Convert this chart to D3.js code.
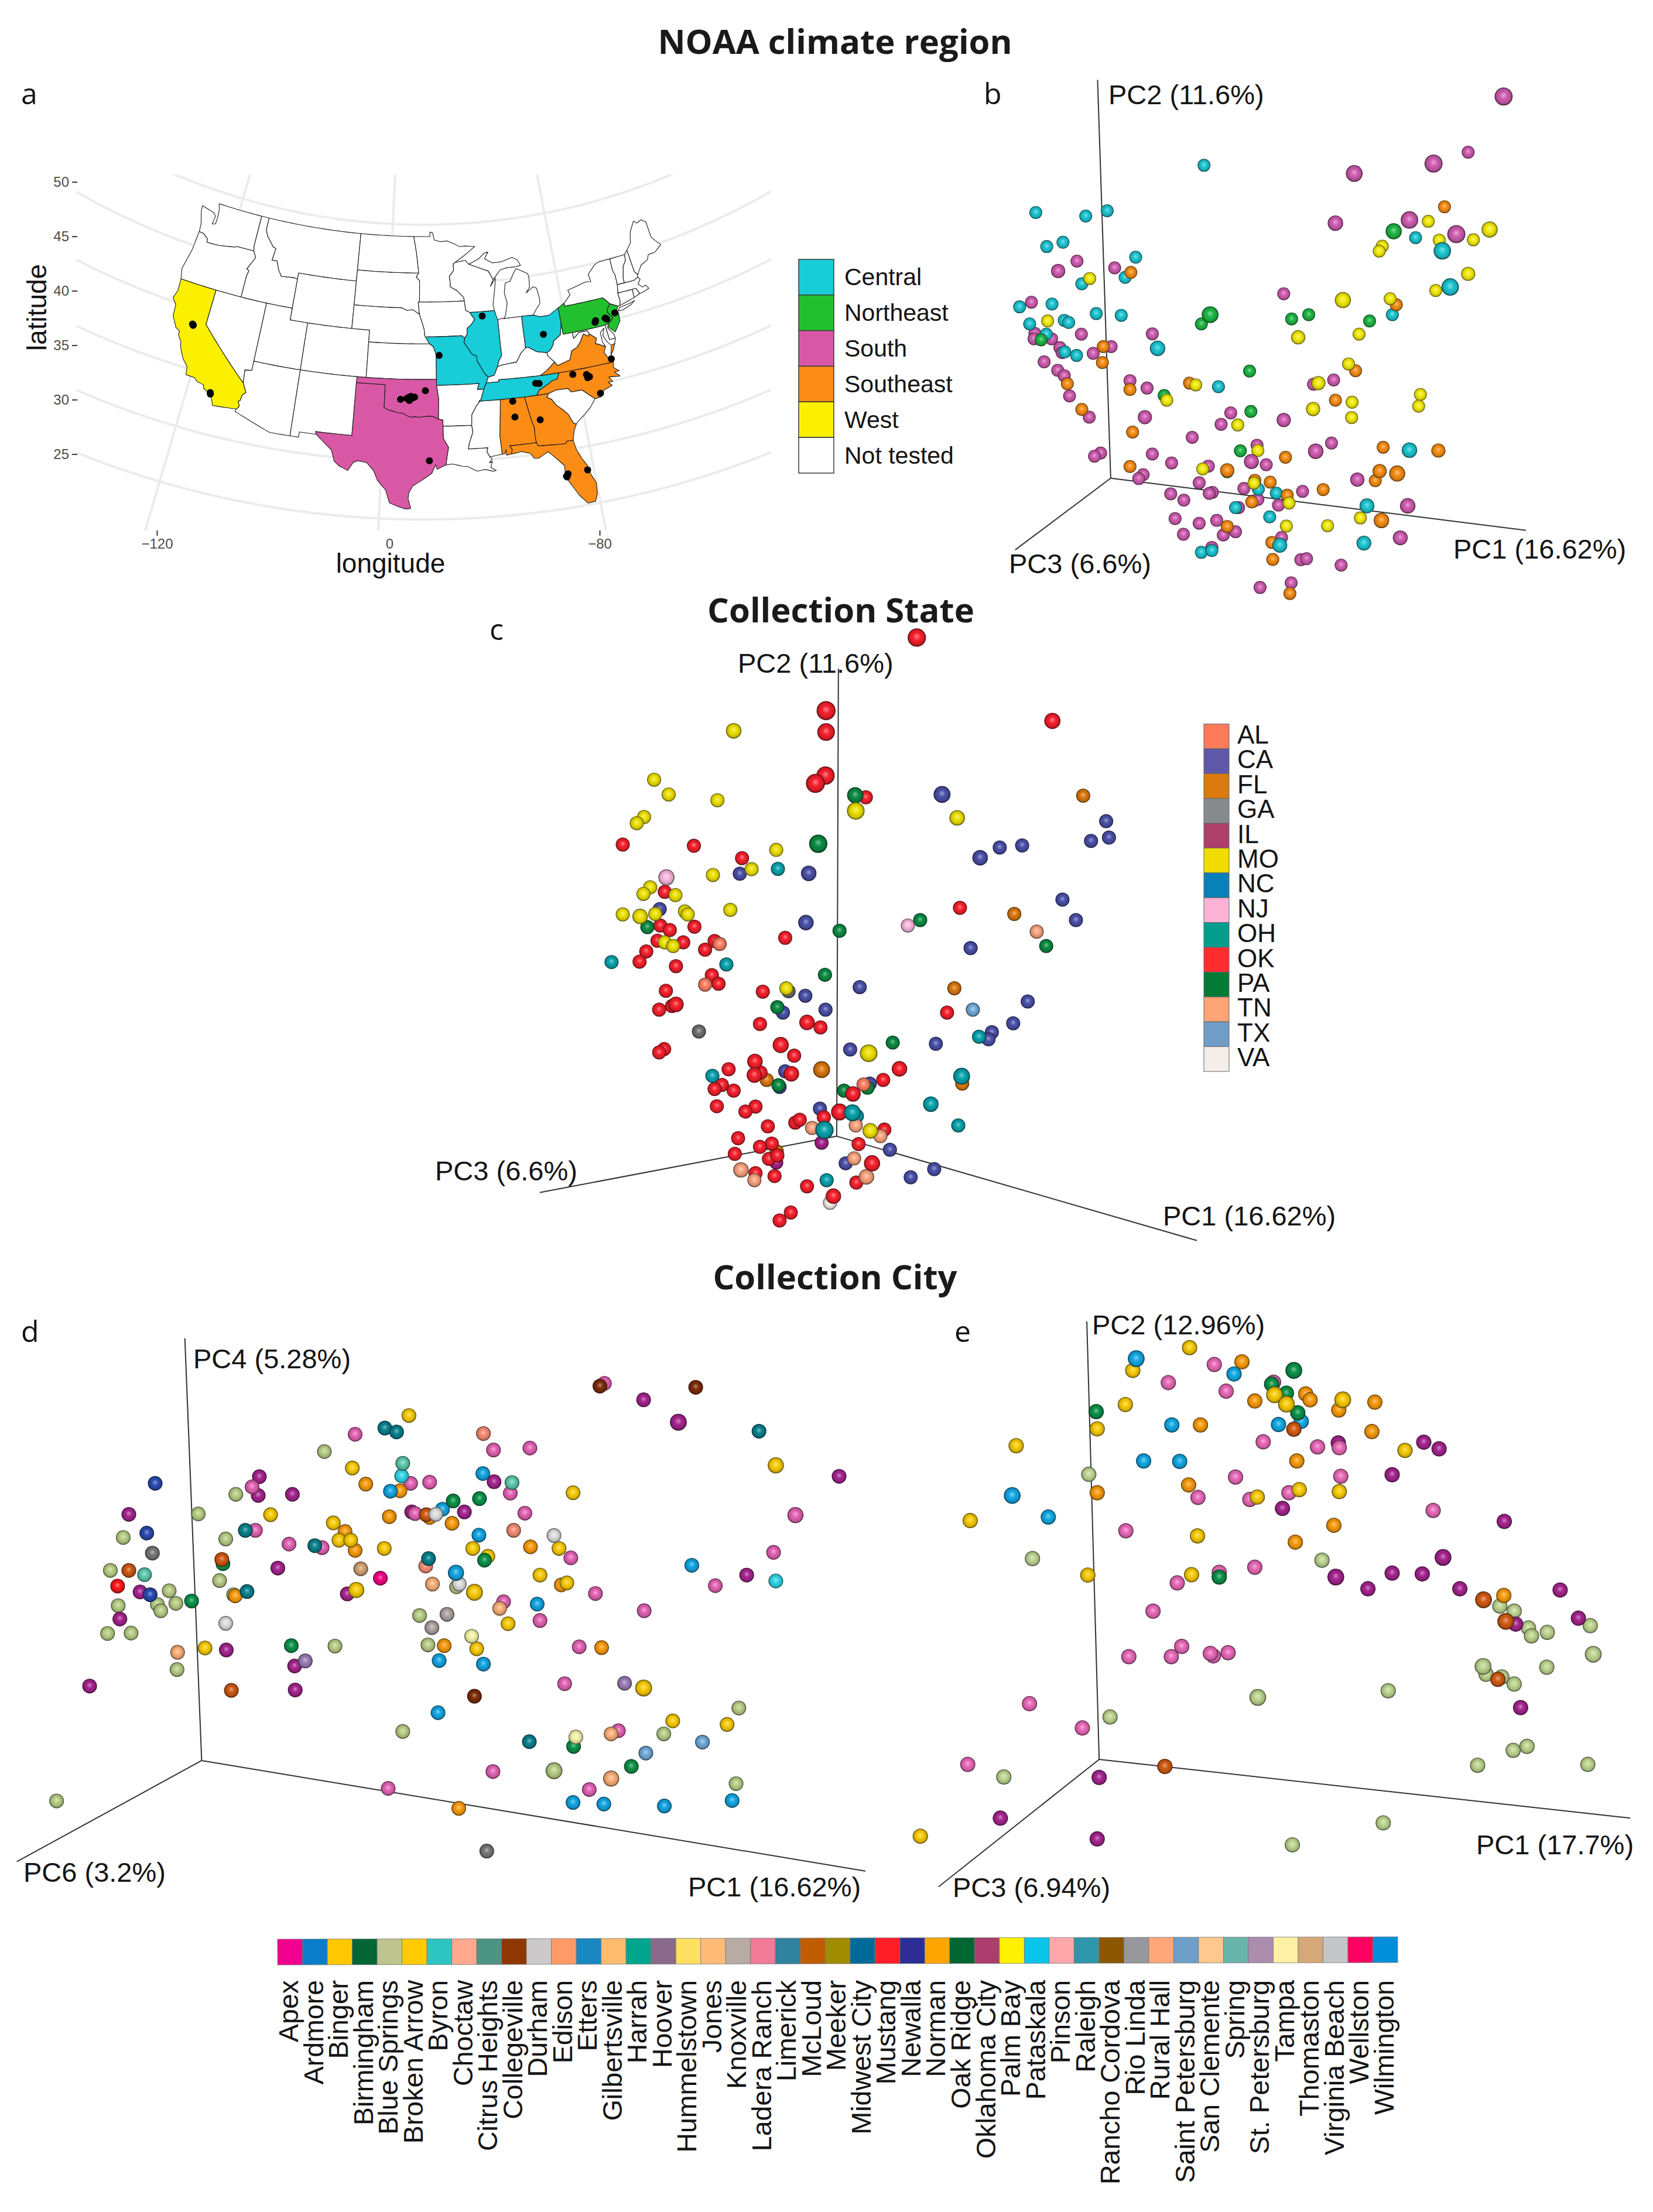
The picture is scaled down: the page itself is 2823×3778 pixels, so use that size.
<!DOCTYPE html>
<html>
<head>
  <title></title>
  <meta charset="utf-8">
<style>
  body { margin: 0; background: #fff; }
  svg text { font-family: "Liberation Sans", Arial, sans-serif; fill: #141414; }
  .title { font-family: "Open Sans", sans-serif !important; font-weight: 700; font-size: 58px; text-anchor: middle; fill: #1a1a1a; }
  .letter { font-family: "Open Sans", sans-serif !important; font-size: 50px; }
  .pc { font-size: 47px; }
  .state { stroke: #1c1c1c; stroke-width: 1.1; stroke-linejoin: round; }
  .grat { fill: none; stroke: #ebebeb; stroke-width: 4; }
  .pcaxis { stroke: #333; stroke-width: 2; }
</style>
<script src="https://cdn.jsdelivr.net/npm/d3@7"></script>
</head>
<body>
<svg width="2823" height="3778"></svg>
<script>

// Panel a: state outlines, lon/lat
const WA = [[-124.7,48.4],[-124.6,47.9],[-124.1,46.9],[-124,46.25],[-123.4,46.2],[-122.8,45.9],[-122.7,45.6],[-121.2,45.65],[-119.3,45.9],[-119,46],[-116.92,46],[-117.04,46.4],[-117.04,49],[-122.75,49],[-122.5,48.5],[-122.4,47.9],[-122.4,47.3],[-122.8,47.2],[-122.7,47.9],[-123.1,48.15]];
const OR = [[-124,46.25],[-124.1,44.6],[-124.5,42.85],[-124.2,42],[-117.03,42],[-117.03,43.8],[-116.9,44.3],[-117.2,44.4],[-116.5,45.5],[-116.92,46],[-119,46],[-119.3,45.9],[-121.2,45.65],[-122.7,45.6],[-122.8,45.9],[-123.4,46.2]];
const CA = [[-124.2,42],[-120,42],[-120,39],[-114.63,35],[-114.15,34.27],[-114.45,34],[-114.55,33.5],[-114.72,33.4],[-114.5,33],[-114.72,32.72],[-117.12,32.53],[-117.25,32.85],[-117.6,33.4],[-118.4,33.75],[-118.5,34.03],[-119.2,34.15],[-119.6,34.42],[-120.5,34.45],[-120.65,35.15],[-121.3,35.7],[-121.9,36.6],[-122,36.95],[-122.5,37.5],[-122.5,37.8],[-123,38],[-123.7,38.9],[-123.8,39.8],[-124.35,40.3],[-124.1,41]];
const NV = [[-120,42],[-114.04,42],[-114.04,36.2],[-114.75,36.1],[-114.63,35],[-120,39]];
const ID = [[-117.04,49],[-116.05,49],[-116.05,48],[-115.7,47.5],[-114.7,46.7],[-114.35,46.65],[-114.5,45.6],[-113.9,45.65],[-113.45,44.9],[-113,44.45],[-111.5,44.55],[-111.05,44.48],[-111.05,42],[-117.03,42],[-117.03,43.8],[-116.9,44.3],[-117.2,44.4],[-116.5,45.5],[-116.92,46],[-117.04,46.4]];
const MT = [[-116.05,49],[-104.05,49],[-104.05,45],[-111.05,45],[-111.05,44.48],[-111.5,44.55],[-113,44.45],[-113.45,44.9],[-113.9,45.65],[-114.5,45.6],[-114.35,46.65],[-114.7,46.7],[-115.7,47.5],[-116.05,48]];
const WY = [[-111.05,45],[-104.05,45],[-104.05,41],[-111.05,41]];
const UT = [[-114.04,42],[-111.05,42],[-111.05,41],[-109.05,41],[-109.05,37],[-114.04,37]];
const CO = [[-109.05,41],[-102.05,41],[-102.05,37],[-109.05,37]];
const AZ = [[-114.04,37],[-109.05,37],[-109.05,31.33],[-111.07,31.33],[-114.81,32.5],[-114.72,32.72],[-114.5,33],[-114.72,33.4],[-114.55,33.5],[-114.45,34],[-114.15,34.27],[-114.63,35],[-114.75,36.1],[-114.04,36.2]];
const NM = [[-109.05,37],[-103,37],[-103.04,32],[-106.62,32],[-106.53,31.78],[-108.2,31.78],[-108.2,31.33],[-109.05,31.33]];
const TX = [[-103.04,36.5],[-100,36.5],[-100,34.56],[-99.6,34.38],[-99.2,34.3],[-98.6,34.15],[-98.1,34.13],[-97.6,33.9],[-97.2,33.8],[-96.8,33.85],[-96.5,33.8],[-96,33.85],[-95.5,33.9],[-95,33.87],[-94.48,33.64],[-94.04,33.55],[-94.04,33.02],[-94.04,32],[-93.55,31.2],[-93.7,30.5],[-93.85,29.7],[-94.7,29.35],[-94.8,29.75],[-95,29.4],[-95.2,29],[-96,28.5],[-97,27.9],[-97.35,27.3],[-97.4,26.8],[-97.15,25.96],[-97.6,25.9],[-98.3,26.1],[-99.1,26.4],[-99.5,27.5],[-100.3,28.3],[-100.7,29.1],[-101.4,29.77],[-102.3,29.88],[-102.7,29.7],[-103.15,28.98],[-104,29.3],[-104.5,29.65],[-104.9,30.6],[-106,31.4],[-106.53,31.78],[-106.62,32],[-103.04,32]];
const OK = [[-103,37],[-94.62,37],[-94.62,36.5],[-94.43,35.4],[-94.48,33.64],[-95,33.87],[-95.5,33.9],[-96,33.85],[-96.5,33.8],[-96.8,33.85],[-97.2,33.8],[-97.6,33.9],[-98.1,34.13],[-98.6,34.15],[-99.2,34.3],[-99.6,34.38],[-100,34.56],[-100,36.5],[-103.04,36.5]];
const KS = [[-102.05,40],[-95.3,40],[-94.9,39.75],[-94.6,39.1],[-94.62,37],[-102.05,37]];
const NE = [[-104.05,43],[-98.5,43],[-97.9,42.8],[-97.2,42.85],[-96.45,42.49],[-96.1,41.7],[-95.9,41.2],[-95.85,40.7],[-95.3,40],[-102.05,40],[-102.05,41],[-104.05,41]];
const SD = [[-104.05,45.94],[-96.56,45.94],[-96.85,45.6],[-96.45,45.3],[-96.45,43.5],[-96.6,43.5],[-96.45,42.49],[-97.2,42.85],[-97.9,42.8],[-98.5,43],[-104.05,43]];
const ND = [[-104.05,49],[-97.23,49],[-96.85,47.6],[-96.56,45.94],[-104.05,45.94]];
const MN = [[-97.23,49],[-95.15,49],[-95.15,49.38],[-94.8,49.3],[-94.6,48.7],[-93.8,48.55],[-92.95,48.6],[-92,48.3],[-91.4,48.07],[-90.75,48.1],[-89.5,48],[-90.9,47.3],[-92.1,46.75],[-92.3,46.65],[-92.3,46.1],[-92.85,45.6],[-92.75,45],[-92.8,44.75],[-92,44.4],[-91.25,43.8],[-91.2,43.5],[-96.45,43.5],[-96.45,45.3],[-96.85,45.6],[-96.56,45.94],[-96.85,47.6]];
const IA = [[-96.6,43.5],[-91.2,43.5],[-91.1,42.7],[-90.64,42.51],[-90.15,41.9],[-90.55,41.5],[-91.05,41.2],[-91.1,40.7],[-91.42,40.38],[-91.7,40.6],[-95.77,40.58],[-95.85,40.7],[-95.9,41.2],[-96.1,41.7],[-96.45,42.49]];
const MO = [[-95.77,40.58],[-91.7,40.6],[-91.42,40.38],[-91.5,40],[-91,39.4],[-90.7,39],[-90.2,38.8],[-90.2,38.4],[-89.9,37.95],[-89.5,37.3],[-89.15,36.98],[-89.4,36.5],[-89.7,36],[-90.37,36],[-90.15,36.5],[-94.62,36.5],[-94.62,37],[-94.6,39.1],[-94.9,39.75],[-95.3,40]];
const AR = [[-94.62,36.5],[-90.15,36.5],[-90.37,36],[-89.7,36],[-90.07,35.13],[-90.6,34.6],[-91.1,33.9],[-91.17,33],[-94.04,33.02],[-94.04,33.55],[-94.48,33.64],[-94.43,35.4]];
const LA = [[-94.04,33.02],[-91.17,33],[-91.1,32.4],[-91.5,31.5],[-91.63,31],[-89.73,31],[-89.85,30.65],[-89.6,30.2],[-89.4,30],[-89.7,29.7],[-89.4,29.8],[-89.6,29.3],[-89.1,29],[-89.4,28.95],[-90.1,29.15],[-90.9,29.05],[-91.8,29.5],[-92.3,29.55],[-93.2,29.77],[-93.85,29.7],[-93.7,30.5],[-93.55,31.2],[-94.04,32]];
const MS = [[-90.3,35],[-88.2,35],[-88.1,34.9],[-88.47,31.9],[-88.4,30.35],[-89.6,30.2],[-89.85,30.65],[-89.73,31],[-91.63,31],[-91.5,31.5],[-91.1,32.4],[-91.17,33],[-91.1,33.9],[-90.6,34.6],[-90.07,35.13]];
const AL = [[-88.2,35],[-85.6,34.98],[-85.18,32.87],[-85,32.3],[-85.05,31.55],[-85,31],[-87.6,31],[-87.4,30.65],[-87.52,30.28],[-88,30.23],[-88,30.7],[-88.15,30.35],[-88.4,30.35],[-88.47,31.9],[-88.1,34.9]];
const GA = [[-85.6,34.98],[-83.1,35],[-83.35,34.7],[-82.9,34.48],[-82.55,33.95],[-81.95,33.45],[-81.5,33],[-81.15,32.2],[-80.88,32.03],[-81.2,31.5],[-81.45,30.72],[-82.05,30.75],[-82.2,30.55],[-84.86,30.7],[-85,31],[-85.05,31.55],[-85,32.3],[-85.18,32.87]];
const FL = [[-87.6,31],[-85,31],[-84.86,30.7],[-82.2,30.55],[-82.05,30.75],[-81.45,30.72],[-81.3,29.9],[-80.9,29],[-80.55,28.4],[-80.35,27.5],[-80.03,26.8],[-80.12,25.8],[-80.4,25.2],[-81.1,25.15],[-81.75,25.95],[-82.1,26.6],[-82.75,27.75],[-82.65,28.7],[-83.4,29.5],[-84,30.1],[-85,29.65],[-85.4,29.7],[-85.7,30.15],[-86.5,30.4],[-87.52,30.28],[-87.4,30.65]];
const SC = [[-83.1,35],[-82.3,35.2],[-81.05,35.15],[-80.8,34.82],[-79.67,34.8],[-78.55,33.86],[-79.2,33.2],[-79.9,32.7],[-80.65,32.25],[-80.88,32.03],[-81.15,32.2],[-81.5,33],[-81.95,33.45],[-82.55,33.95],[-82.9,34.48],[-83.35,34.7]];
const NC = [[-84.32,35],[-83.1,35],[-82.3,35.2],[-81.05,35.15],[-80.8,34.82],[-79.67,34.8],[-78.55,33.86],[-77.95,33.9],[-77.5,34.4],[-76.55,34.65],[-76.9,35],[-76.4,34.95],[-76.7,35.4],[-75.55,35.25],[-76,35.7],[-75.5,35.7],[-76,36.1],[-75.87,36.55],[-81.68,36.59],[-82,36.1],[-82.6,36],[-83.1,35.75],[-84,35.4]];
const VA = [[-75.87,36.55],[-81.68,36.59],[-83.68,36.6],[-82.9,36.95],[-81.97,37.54],[-81.68,37.2],[-80.3,37.5],[-79.95,38.2],[-79.3,38.42],[-78.87,38.77],[-78.35,39.4],[-77.83,39.13],[-77.72,39.32],[-77.1,38.85],[-77.05,38.8],[-77.3,38.4],[-76.9,38.25],[-76.3,37.95],[-76.6,37.5],[-76.3,37],[-76,36.92]];
const VAshore = [[-75.95,37.15],[-75.65,37.95],[-75.25,38.03],[-75.6,37.5]];
const WV = [[-80.52,40.64],[-80.52,39.72],[-79.48,39.72],[-79.48,39.2],[-78.8,39.6],[-78.4,39.62],[-77.83,39.6],[-77.72,39.32],[-77.83,39.13],[-78.35,39.4],[-78.87,38.77],[-79.3,38.42],[-79.95,38.2],[-80.3,37.5],[-81.68,37.2],[-81.97,37.54],[-82.6,38.17],[-82.6,38.42],[-82.2,38.6],[-81.8,39],[-81.7,39.3],[-80.85,39.7]];
const KY = [[-89.4,36.5],[-88.07,36.5],[-88.05,36.68],[-83.68,36.6],[-82.9,36.95],[-81.97,37.54],[-82.6,38.17],[-82.6,38.42],[-83.7,38.65],[-84.5,39.1],[-84.82,39.1],[-85.4,38.7],[-85.75,38.27],[-86,38],[-86.8,37.95],[-87.5,37.9],[-88.05,37.8],[-88.5,37.1],[-89.15,36.98]];
const TN = [[-89.7,36],[-89.4,36.5],[-88.07,36.5],[-88.05,36.68],[-83.68,36.6],[-81.68,36.59],[-82,36.1],[-82.6,36],[-83.1,35.75],[-84,35.4],[-84.32,35],[-85.6,34.98],[-88.2,35],[-90.3,35],[-90.07,35.13]];
const IN = [[-87.53,41.7],[-87.2,41.76],[-86.82,41.76],[-84.8,41.76],[-84.82,39.1],[-85.4,38.7],[-85.75,38.27],[-86,38],[-86.8,37.95],[-87.5,37.9],[-88.05,37.8],[-87.9,38.2],[-87.5,38.7],[-87.53,39.35]];
const IL = [[-90.64,42.51],[-87.8,42.5],[-87.6,41.85],[-87.53,41.7],[-87.53,39.35],[-87.5,38.7],[-87.9,38.2],[-88.05,37.8],[-88.5,37.1],[-89.15,36.98],[-89.5,37.3],[-89.9,37.95],[-90.2,38.4],[-90.2,38.8],[-90.7,39],[-91,39.4],[-91.5,40],[-91.42,40.38],[-91.1,40.7],[-91.05,41.2],[-90.55,41.5],[-90.15,41.9]];
const OH = [[-84.8,41.76],[-83.45,41.72],[-82.7,41.5],[-81.7,41.5],[-80.52,41.98],[-80.52,40.64],[-80.85,39.7],[-81.7,39.3],[-81.8,39],[-82.2,38.6],[-82.6,38.42],[-83.7,38.65],[-84.5,39.1],[-84.82,39.1]];
const MIlow = [[-86.82,41.76],[-84.8,41.76],[-83.45,41.72],[-83.15,42.05],[-82.5,42.6],[-82.45,43],[-82.6,43.9],[-83,44.07],[-83.9,43.65],[-83.4,44.1],[-83.3,44.9],[-83.4,45.25],[-84.7,45.78],[-85.1,45.4],[-85.6,44.8],[-86.2,44.7],[-86.45,43.9],[-86.25,43],[-86.6,42]];
const MIup = [[-90.4,46.55],[-89.1,46.95],[-88.45,47.35],[-87.9,47.45],[-88.4,46.9],[-87.5,46.5],[-86.5,46.5],[-85,46.75],[-84.4,46.5],[-84.1,46],[-84.7,45.95],[-85.8,45.95],[-86.6,45.85],[-87.6,45.1],[-88.1,45.85],[-89.1,46.15]];
const WI = [[-92.1,46.75],[-90.8,46.9],[-90.4,46.55],[-89.1,46.15],[-88.1,45.85],[-87.6,45.1],[-88,44.55],[-87.3,45.2],[-87.5,44.4],[-87.9,43],[-87.8,42.5],[-90.64,42.51],[-91.1,42.7],[-91.2,43.5],[-91.25,43.8],[-92,44.4],[-92.8,44.75],[-92.75,45],[-92.85,45.6],[-92.3,46.1],[-92.3,46.65]];
const PA = [[-80.52,41.98],[-79.76,42.27],[-79.76,42],[-75.35,42],[-75.05,41.75],[-74.7,41.36],[-75.1,41],[-75.2,40.7],[-74.75,40.2],[-75.1,39.9],[-75.4,39.8],[-75.79,39.72],[-80.52,39.72],[-80.52,40.64]];
const NJ = [[-74.7,41.36],[-73.9,41],[-74.25,40.5],[-74,40.45],[-74.1,39.75],[-74.9,38.95],[-75.5,39.5],[-75.4,39.8],[-75.1,39.9],[-74.75,40.2],[-75.2,40.7],[-75.1,41]];
const NY = [[-79.76,42.27],[-78.9,42.85],[-79.05,43.27],[-76.8,43.63],[-76.2,43.55],[-76.3,44.2],[-75.3,44.85],[-74.7,45],[-73.35,45],[-73.4,44],[-73.25,43.6],[-73.3,42.75],[-73.5,42.05],[-73.5,41.3],[-73.65,41],[-73.9,41],[-74.7,41.36],[-75.05,41.75],[-75.35,42],[-79.76,42]];
const LI = [[-74,40.6],[-73.75,40.85],[-72.6,40.95],[-71.9,41.07],[-72.5,40.8],[-73.5,40.58]];
const VT = [[-73.35,45],[-71.5,45],[-71.6,44.5],[-72.05,44.1],[-72.45,43.1],[-72.46,42.73],[-73.3,42.75],[-73.25,43.6],[-73.4,44]];
const NH = [[-71.5,45],[-71.08,45.3],[-70.98,43.4],[-70.7,43.07],[-70.82,42.87],[-71.3,42.7],[-72.46,42.73],[-72.45,43.1],[-72.05,44.1],[-71.6,44.5]];
const ME = [[-71.08,45.3],[-70.4,45.8],[-70.25,46.2],[-70,46.7],[-69.23,47.46],[-68.9,47.2],[-68.3,47.36],[-67.8,47.07],[-67.8,45.7],[-67.45,45.3],[-67,44.85],[-68,44.4],[-68.8,44.4],[-69.1,44],[-70,43.75],[-70.7,43.07],[-70.98,43.4]];
const MA = [[-73.5,42.05],[-73.3,42.75],[-72.46,42.73],[-71.3,42.7],[-70.82,42.87],[-70.6,42.65],[-71,42.3],[-70.6,41.95],[-70.2,42.05],[-69.95,41.7],[-70.65,41.55],[-71.12,41.5],[-71.38,42.02],[-71.8,42.02]];
const CT = [[-73.5,42.05],[-71.8,42.02],[-71.85,41.32],[-73.65,41],[-73.5,41.3]];
const RI = [[-71.8,42.02],[-71.38,42.02],[-71.12,41.5],[-71.85,41.32]];
const MD = [[-79.48,39.72],[-75.79,39.72],[-75.7,38.46],[-75.05,38.45],[-75.25,38.03],[-75.65,37.95],[-76,38.3],[-76.3,38.9],[-76,39.5],[-76.5,39.2],[-76.5,38.4],[-76.3,37.95],[-76.9,38.25],[-77.3,38.4],[-77.05,38.8],[-77.1,38.85],[-77.72,39.32],[-77.83,39.6],[-78.4,39.62],[-78.8,39.6],[-79.48,39.2]];
const DE = [[-75.79,39.72],[-75.4,39.8],[-75.6,39.45],[-75.1,38.8],[-75.05,38.45],[-75.7,38.46]];

const regionNames = ["Central", "Northeast", "South", "Southeast", "West", "Not tested"];
const regionColors = ["#18ccd8", "#22c02e", "#d958a5", "#fb8c16", "#fbf000", "#ffffff"];
const centralStates = [IL, MO, OH, TN];
const northeastStates = [PA, NJ];
const southStates = [TX, OK];
const southeastStates = [AL, GA, FL, NC, VA, VAshore];
const westStates = [CA];
const otherStates = [WA, OR, NV, ID, MT, WY, UT, CO, AZ, NM, KS, NE, SD, ND, MN, IA, AR, LA, MS, SC, WV, KY, IN, MIlow, MIup, WI, NY, LI, VT, NH, ME, MA, CT, RI, MD, DE];

// collection sites, lon/lat
const siteLonLat = [[-121.3,38.65],[-121.4,38.7],[-121.3,38.6],[-117.6,33.43],[-117.65,33.55],
  [-98.35,35.3],[-97.7,35.39],[-97.2,35.4],[-97.5,35.47],[-97.44,35.22],[-97.16,35.49],[-97.27,35.5],[-97.4,35.45],[-97.09,35.44],[-96.9,35.5],[-97.29,35.57],[-95.79,36.05],
  [-95.42,30.08],[-86.8,33.4],[-86.85,34.75],[-84.33,32.89],[-75.6,40.3],[-75.5,40.23],[-75.45,40.18],[-76.8,40.15],[-76.7,40.27],[-74.41,40.52],
  [-78.64,35.78],[-78.85,35.73],[-78.9,36],[-80.3,36.24],[-77.9,34.2],[-89.26,42.13],[-94.28,39.02],[-83.92,35.96],[-84.27,36.01],[-76,36.85],
  [-82.46,27.95],[-82.64,27.77],[-82.6,27.7],[-80.6,28],[-82.67,39.99]];

const latTicks = [50, 45, 40, 35, 30, 25];
const lonTicks = [-120, -99, -80];
const lonTickLabels = ["\u2212120", "0", "\u221280"];
const gridParallels = [50, 45, 40, 35, 30, 25];
const gridMeridians = [-120, -100, -80];

// Panel b, projected PC scores, [pc x, pc y, depth]
const bCentral = [[543,301],[159,434],[273,444],[322,429],[184,530],[221,518],[387,560],[363,617],[264,635],[122,700],[196,692],[297,719],[354,724],[145,748],[224,738],[234,744],[183,777],[437,817,1.2],[252,837],[225,827],[576,925],[1026,505],[1087,542,1.35],[1105,644,1.35],[973,722],[1012,1104,1.2],[653,1138],[667,1214],[708,1225],[915,1261,1.15],[615,1266],[693,1292],[908,1366,1.15],[716,1372,1.15],[537,1392],[561,1387]];
const bNortheast = [[976,487,1.25],[557,722,1.3],[537,748],[743,734],[782,722],[921,740],[171,793],[647,881],[452,950],[650,995],[626,1106],[596,1165]];
const bSouth = [[1227,107,1.4],[1146,264],[1067,296,1.4],[886,324,1.3],[843,464,1.2],[1012,455,1.35],[1119,495,1.4],[253,571],[210,599,1.1],[339,590],[149,687],[725,663],[263,777],[425,776],[157,775],[155,790],[195,790],[214,815],[219,829],[178,855],[290,831],[331,812],[209,879],[224,894],[236,951],[374,908],[413,929],[281,1011],[408,1011,1.1],[604,999],[582,1031],[725,1019,1.1],[839,906],[793,918],[516,1068],[664,1090],[834,1084],[798,1107,1.2],[307,1112],[293,1121],[425,1115],[469,1140],[553,1149],[651,1136,1.15],[685,1145],[404,1173],[394,1184],[532,1196],[893,1187,1.1],[634,1212],[768,1220],[467,1227],[497,1245],[562,1223],[555,1226],[622,1266],[655,1248],[666,1243],[713,1259],[1008,1261,1.2],[477,1297],[532,1310],[572,1302],[615,1334],[587,1343],[496,1341],[720,1350],[991,1351,1.15],[561,1378],[764,1413],[777,1410],[856,1428],[742,1478],[671,1491]];
const bSoutheast = [[1092,418],[376,603],[982,694],[313,812],[311,857],[231,917],[510,915],[889,880],[374,933],[843,963],[264,989],[380,1053],[952,1096],[1078,1105,1.1],[729,1124],[374,1150],[596,1161,1.1],[944,1163,1.1],[984,1170,1.25],[934,1190],[694,1194],[659,1189],[815,1215],[733,1231],[948,1302,1.2],[596,1319],[698,1364],[700,1412],[739,1508],[652,1250]];
const bWest = [[1055,459],[1080,512],[1158,511],[1195,482,1.25],[950,529],[943,543],[1146,607,1.1],[1072,654],[282,620],[860,681,1.25],[968,677],[186,740],[758,786,1.1],[897,777],[873,861],[524,920],[804,915,1.1],[458,963],[881,969],[1037,947],[1033,980],[792,988,1.1],[880,1012],[620,1033],[666,1105],[540,1157],[657,1197],[737,1253],[731,1318],[825,1317],[900,1295]];

// Panel c
const cAL = [[553,830],[527,929],[810,1172]];
const cCA = [[950,466,1.2],[1243,531],[1053,595],[1093,590],[1018,620,1.1],[1216,579],[1248,571],[589,659],[712,658,1.1],[446,745],[707,778,1.1],[1165,722],[1189,772],[1001,840],[803,935],[706,956],[742,990],[666,997],[1103,970],[1077,1023],[1039,1045],[1033,1062],[786,1087],[939,1073],[670,1140],[821,1170],[660,1178],[732,1231],[857,1331],[778,1364],[936,1378],[894,1398]];
const cFL = [[1202,469],[1079,757],[972,938],[735,1136,1.2],[637,1161],[986,1170],[655,1335]];
const cGA = [[516,1043],[676,945]];
const cIL = [[735,1314],[654,1362]];
const cMO = [[578,311,1.1],[436,430],[462,466],[549,480],[418,521],[405,536],[796,506,1.25],[977,523,1.1],[654,601],[610,648],[541,662],[429,692],[417,708],[474,711],[380,758],[411,763,1.1],[438,757],[491,751],[496,758],[572,747],[455,826],[470,835],[672,938],[819,1096,1.25],[822,1285,1.1]];
const cNJ = [[458,668,1.15],[889,785]];
const cOH = [[657,647],[360,874],[565,880],[540,1151],[985,1152,1.2],[1016,1056],[930,1220,1.1],[979,1272],[790,1241,1.2],[798,1249],[740,1283,1.3],[744,1405]];
const cOK = [[905,84,1.3],[743,262,1.35],[743,314,1.25],[1147,287,1.15],[742,420,1.3],[724,439,1.35],[814,473],[380,588],[507,591],[593,621],[455,703],[447,785],[464,796],[508,788],[442,822],[488,826],[422,848],[527,844],[544,823],[410,873],[475,884],[539,906],[551,927],[670,815],[982,742],[457,944],[475,977,1.1],[468,981],[445,990],[630,946],[625,1025],[709,1021,1.1],[733,1033],[959,997],[662,1076,1.15],[686,1102],[454,1086],[445,1094],[616,1116,1.1],[569,1135],[615,1149,1.1],[626,1143],[681,1146,1.1],[557,1173],[544,1183],[578,1187],[874,1134,1.1],[845,1161],[791,1195,1.1],[548,1225],[617,1226],[599,1238],[688,1265],[696,1258],[739,1252],[767,1239,1.2],[639,1274],[847,1282],[586,1303],[646,1316],[625,1324],[801,1317],[580,1341],[641,1353],[656,1345],[825,1364,1.15],[617,1388],[651,1395],[709,1420],[797,1411],[756,1444,1.1],[680,1484],[660,1503]];
const cPA = [[795,468,1.15],[729,586,1.3],[424,789],[767,798],[911,772],[1136,835],[741,905],[656,984],[862,1070],[658,1174],[775,1187],[817,1180]];
const cTN = [[1119,800],[718,1278],[796,1272],[840,1298],[793,1352],[591,1380,1.1],[615,1405],[815,1397,1.1]];
const cTX = [[1005,990]];
const cVA = [[750,1460]];

// Panel d
const dPink = [[1079,243],[634,373],[881,413],[946,408],[450,507],[733,498],[767,495],[911,523],[937,574],[741,575],[1420,579,1.1],[516,653],[575,662],[1019,688],[1381,674],[1277,759],[1063,779],[1150,823],[899,800],[964,848],[1034,915],[1008,1009],[1104,1129],[880,1233],[1052,1279],[693,1276],[456,618]];
const dPurple = [[1149,285],[1211,342,1.15],[1498,480],[463,481],[461,529],[522,526],[882,494],[829,571],[735,571],[230,577],[496,714],[620,780],[1333,732],[250,775],[214,844],[404,923],[526,964],[527,1025],[160,1015]];
const dYellow = [[730,325],[629,459],[1023,522],[483,578],[595,599],[605,643],[626,643],[686,664],[844,664],[871,684],[998,664],[964,732],[1012,752],[847,776,1.15],[636,770,1.1],[1385,452,1.1],[907,856],[366,918],[851,920],[1149,1020,1.15],[1201,1104],[1298,1113]];
const dOrange = [[653,500],[714,517],[695,583],[807,600],[616,621],[634,669],[947,660],[1002,757],[793,912],[1074,917],[819,1327],[767,585],[420,785]];
const dPeach = [[772,755],[317,929],[1091,1251,1.1],[1091,1137],[892,817]];
const dSalmon = [[863,371],[917,618],[760,709]];
const dTan = [[644,716]];
const dSage = [[579,417],[421,526],[354,576],[220,636],[403,640],[197,720],[392,746],[417,782],[302,772],[281,807],[314,804],[287,823],[211,810],[192,881],[234,880],[316,973],[598,913],[749,835],[764,910],[719,1131],[989,1231,1.15],[1185,1137],[1319,1071],[1314,1264],[101,1308],[815,762]];
const dSky = [[862,473],[697,518],[790,564],[855,630],[814,726,1.1],[959,806],[784,950],[863,959],[1235,707],[782,1083],[1023,1312],[1078,1316],[1186,1321],[1307,1307]];
const dAqua = [[717,479],[1385,747]];
const dMint = [[719,447],[914,496],[258,731]];
const dTeal = [[687,357],[708,367],[1355,365],[765,690],[441,774],[945,1157],[562,657],[438,618]];
const dGreen = [[809,543],[856,537],[865,694],[342,798],[520,912],[1024,1169],[1127,1220],[398,703]];
const dBrown = [[1242,253],[1071,250],[847,1041]];
const dRust = [[396,692],[761,578],[230,720],[413,1026]];
const dGray = [[272,676],[869,1436]];
const dTaupe = [[798,832],[771,866]];
const dSilver = [[778,577],[989,631],[820,755],[403,855]];
const dBlue = [[277,498],[262,625],[268,782]];
const dRed = [[210,760]];
const dHot = [[679,740]];
const dCream = [[842,888],[1028,1145]];
const dLilac = [[1115,1008],[545,951]];
const dSteel = [[1153,1186],[1254,1158]];

// Panel e
const ePink = [[680,195],[587,241],[704,263],[800,240],[779,392],[889,405],[723,482],[647,534],[752,539],[831,522],[936,480],[933,407],[1123,567],[501,619],[690,725],[762,712],[605,752],[556,824],[614,914],[507,940],[593,940],[678,938],[672,932],[708,930],[306,1060],[413,1122],[181,1215]];
const ePurple = [[931,395],[1104,393],[1135,410],[1040,476],[818,562],[1267,595],[1143,687,1.1],[926,737,1.1],[1040,727],[1101,729],[991,767],[1177,767],[1380,770],[1417,842],[1290,857],[1300,1070],[447,1248],[247,1352],[443,1405]];
const eYellow = [[630,152],[515,210],[500,297],[443,359],[802,272,1.1],[826,296,1.1],[940,285,1.1],[279,402],[1066,414],[767,533],[852,514],[933,519],[646,632],[186,593],[424,732],[634,731],[85,1398]];
const eOrange = [[736,188],[762,288],[865,270],[874,285],[932,311],[1005,291],[652,349],[999,366],[847,441],[628,502],[443,522],[922,605],[844,648],[1266,784]];
const eSky = [[522,180,1.1],[720,219],[594,349],[810,348],[856,340],[537,441],[610,442],[271,529,1.1],[344,584]];
const eGreen = [[841,210,1.1],[796,245],[826,268],[441,315],[849,318],[690,737]];
const eRust = [[841,360],[1225,795,1.1],[1270,850,1.1],[1254,998],[580,1220]];
const eSage = [[426,475],[312,690],[898,694],[1258,811],[1287,824],[1316,867],[1322,887],[1354,878],[1441,861],[1447,934,1.1],[1224,965,1.1],[1230,985],[1262,992],[1287,1010],[1353,967],[768,1044,1.1],[1032,1027],[469,1094],[1285,1179],[1313,1169],[1213,1217],[1436,1215],[254,1247],[1022,1364],[838,1420]];

const stateLabels = ["AL","CA","FL","GA","IL","MO","NC","NJ","OH","OK","PA","TN","TX","VA"];
const stateColors = ["#fd7a5b","#5f58a8","#db7a0e","#888b8d","#ad3f6b","#f0dc00","#0a80ba","#fdb2d6","#049d8e","#fd2d2f","#037a36","#fea477","#6f9dc8","#f5eee8"];

const cityLabels = ["Apex","Ardmore","Binger","Birmingham","Blue Springs","Broken Arrow","Byron","Choctaw","Citrus Heights","Collegeville","Durham","Edison","Etters","Gilbertsville","Harrah","Hoover","Hummelstown","Jones","Knoxville","Ladera Ranch","Limerick","McLoud","Meeker","Midwest City","Mustang","Newalla","Norman","Oak Ridge","Oklahoma City","Palm Bay","Pataskala","Pinson","Raleigh","Rancho Cordova","Rio Linda","Rural Hall","Saint Petersburg","San Clemente","Spring","St. Petersburg","Tampa","Thomaston","Virginia Beach","Wellston","Wilmington"];
const cityColors = ["#f0008c","#0a7dc8","#ffc800","#046535","#bdc48d","#ffcb00","#2ec4c2","#ffa88e","#4c9483","#8f3703","#ccc9ca","#ff9a66","#1a87c0","#ffbc70","#00a58e","#8a6a8a","#ffdf5f","#ffbb77","#b8aba3","#f17a96","#30829e","#c05d00","#a08c00","#006b9a","#ff1e28","#2d2d96","#ffa500","#006732","#ab3e6c","#fff200","#0ac4ea","#ffa8ab","#2f97ab","#8a5700","#96989d","#ffa779","#6f9fc8","#ffc88e","#69b5ab","#ad8cae","#fff0a5","#d5a878","#c5c6c8","#ff0061","#008fdb"];

var svg = d3.select("svg");
var defs = svg.append("defs");

// one shaded ball per colour
var gradIds = new Map();
function sphereFill(color) {
  if (!gradIds.has(color)) {
    var id = "ball" + gradIds.size;
    gradIds.set(color, id);
    var g = defs.append("radialGradient").attr("id", id)
      .attr("cx", 0.5).attr("cy", 0.5).attr("r", 0.5).attr("fx", 0.5).attr("fy", 0.42);
    var base = d3.color(color);
    g.append("stop").attr("offset", "0%").attr("stop-color", d3.interpolateRgb(color, "#fff")(0.45));
    g.append("stop").attr("offset", "42%").attr("stop-color", color);
    g.append("stop").attr("offset", "80%").attr("stop-color", base.darker(0.45));
    g.append("stop").attr("offset", "93%").attr("stop-color", base.darker(1.8));
    g.append("stop").attr("offset", "100%").attr("stop-color", base.darker(3.5));
  }
  return "url(#" + gradIds.get(color) + ")";
}

// ---------- map ----------
var projection = d3.geoConicEqualArea()
    .rotate([96, 0]).parallels([37, 50]).center([0, 37.5])
    .scale(1160).translate([723, 638]);
var geoPath = d3.geoPath().projection(projection);

function densify(ring) {
  var out = [];
  ring.forEach(function (p, i) {
    var q = ring[(i + 1) % ring.length];
    var n = Math.ceil(Math.max(Math.abs(q[0] - p[0]), Math.abs(q[1] - p[1])) / 0.5);
    d3.range(n).forEach(function (k) { out.push([p[0] + (q[0] - p[0]) * k / n, p[1] + (q[1] - p[1]) * k / n]); });
  });
  return out;
}
function statePoly(ring) {
  var c = densify(ring);
  c.push(c[0]);
  var f = { type: "Polygon", coordinates: [c] };
  if (d3.geoArea(f) > 2 * Math.PI) f.coordinates[0].reverse();
  return f;
}

defs.append("clipPath").attr("id", "mapclip").append("rect")
    .attr("x", 130).attr("y", 298).attr("width", 1187).attr("height", 608);

var grid = svg.append("g").attr("clip-path", "url(#mapclip)");
gridParallels.forEach(function (lat) {
  grid.append("path").attr("class", "grat")
    .attr("d", geoPath({ type: "LineString", coordinates: d3.range(-150, -39).map(function (l) { return [l, lat]; }) }));
});
gridMeridians.forEach(function (lon) {
  grid.append("path").attr("class", "grat")
    .attr("d", geoPath({ type: "LineString", coordinates: d3.range(5, 70).map(function (l) { return [lon, l]; }) }));
});

var stateGroups = [[otherStates, 5], [centralStates, 0], [northeastStates, 1], [southStates, 2], [southeastStates, 3], [westStates, 4]];
stateGroups.forEach(function (g) {
  svg.append("g").selectAll("path").data(g[0]).join("path")
    .attr("class", "state")
    .attr("fill", regionColors[g[1]])
    .attr("d", function (d) { return geoPath(statePoly(d)); });
});
svg.append("g").selectAll("circle").data(siteLonLat).join("circle")
    .attr("cx", function (d) { return projection(d)[0]; })
    .attr("cy", function (d) { return projection(d)[1]; })
    .attr("r", 6).attr("fill", "#000");

// map axes
var latY = d3.scaleLinear().domain([50, 25]).range([310.7, 775.6]);
var lonX = d3.scaleLinear().domain([-120, -80]).range([268, 1024]);
var yAxis = svg.append("g").attr("transform", "translate(132,0)")
    .call(d3.axisLeft(latY).tickValues(latTicks).tickSize(9).tickPadding(5));
var xAxis = svg.append("g").attr("transform", "translate(0,906)")
    .call(d3.axisBottom(lonX).tickValues(lonTicks).tickSize(9).tickPadding(5)
      .tickFormat(function (d, i) { return lonTickLabels[i]; }));
[yAxis, xAxis].forEach(function (a) {
  a.select(".domain").remove();
  a.selectAll("line").attr("stroke", "#333").attr("stroke-width", 2);
  a.selectAll("text").style("font-size", "24px").style("fill", "#4d4d4d");
});
xAxis.selectAll("line").filter(function (d) { return d === -99; }).remove();
svg.append("text").attr("x", 667).attr("y", 978).attr("text-anchor", "middle").style("font-size", "46px").text("longitude");
svg.append("text").attr("transform", "translate(79,525) rotate(-90)").attr("text-anchor", "middle").style("font-size", "46px").text("latitude");

// region legend
var regionY = d3.scaleBand().domain(regionNames).range([443, 808]);
var regionLegend = svg.append("g").selectAll("g").data(regionNames).join("g");
regionLegend.append("rect")
    .attr("x", 1364).attr("width", 60)
    .attr("y", function (d) { return regionY(d); }).attr("height", regionY.bandwidth())
    .attr("fill", function (d, i) { return regionColors[i]; })
    .attr("stroke", "#3a3a3a").attr("stroke-width", 1.5);
regionLegend.append("text")
    .attr("x", 1442).attr("y", function (d) { return regionY(d) + regionY.bandwidth() / 2; })
    .attr("dy", "0.34em").style("font-size", "41px").text(function (d) { return d; });

// ---------- PCoA panels ----------
const panels = [
  { crop: [1650, 100, 1173, 950], radius: 11,
    axes: { o: [330,1183], ends: [[300,60],[1278,1330],[112,1385]] },
    series: [[bSouth,"#cf5cb0"],[bCentral,"#1cc4d0"],[bNortheast,"#1db644"],[bSoutheast,"#f58c14"],[bWest,"#f2ea0a"]],
    labels: [["PC2 (11.6%)",1893,178],["PC1 (16.62%)",2482,954],["PC3 (6.6%)",1723,979]] },
  { crop: [700, 1030, 1500, 1100], radius: 12,
    axes: { o: [762,1298], ends: [[765,160],[232,1435],[1405,1552]] },
    series: [[cCA,"#4a50a8"],[cGA,"#6e7072"],[cIL,"#a3228a"],[cFL,"#d8760e"],[cOK,"#f5202c"],[cPA,"#0a8a42"],[cMO,"#ece000"],[cOH,"#08a2ac"],[cAL,"#fb7f62"],[cTN,"#f8a37e"],[cNJ,"#f6b6dc"],[cTX,"#70aad8"],[cVA,"#f2ece6"]],
    labels: [["PC2 (11.6%)",1260,1149],["PC3 (6.6%)",743,2016],["PC1 (16.62%)",1986,2093]] },
  { crop: [0, 2200, 1500, 1050], radius: 12.5,
    axes: { o: [360,1205], ends: [[330,128],[30,1463],[1545,1487]] },
    series: [[dSage,"#b6cc84"],[dPurple,"#a4248e"],[dPink,"#e262b4"],[dOrange,"#f79a0c"],[dPeach,"#f9ae76"],[dSalmon,"#f58a74"],[dTan,"#d2a070"],[dYellow,"#f7ca04"],[dSky,"#12a4e2"],[dAqua,"#2ed4e6"],[dMint,"#5cc8ac"],[dTeal,"#07808c"],[dGreen,"#0a9248"],[dBrown,"#7c2c06"],[dRust,"#cc5812"],[dGray,"#767676"],[dTaupe,"#aca2a0"],[dSilver,"#dcdcdc"],[dBlue,"#2a4ab0"],[dRed,"#fa1418"],[dHot,"#f20084"],[dCream,"#f2f2a8"],[dLilac,"#9a7cb4"],[dSteel,"#70a8d8"]],
    labels: [["PC4 (5.28%)",330,2337],["PC6 (3.2%)",40,3214],["PC1 (16.62%)",1175,3239]] },
  { crop: [1500, 2200, 1323, 1050], radius: 13,
    axes: { o: [447,1202], ends: [[422,85],[122,1527],[1522,1352]] },
    series: [[eSage,"#bcd48e"],[ePurple,"#a4248e"],[ePink,"#e868b8"],[eOrange,"#f79a0c"],[eYellow,"#f7ca04"],[eSky,"#12a8e4"],[eGreen,"#0a9248"],[eRust,"#d05a14"]],
    labels: [["PC2 (12.96%)",1865,2279],["PC3 (6.94%)",1627,3240],["PC1 (17.7%)",2521,3167]] }
];

panels.forEach(function (p) {
  var x = d3.scaleLinear().domain([0, 1568]).range([p.crop[0], p.crop[0] + p.crop[2]]);
  var y = d3.scaleLinear().domain([0, 1568]).range([p.crop[1], p.crop[1] + p.crop[3]]);
  var r = d3.scaleLinear().domain([1, 1.4]).range([p.radius, p.radius * 1.4]);
  var g = svg.append("g");

  g.selectAll("line").data(p.axes.ends).join("line")
    .attr("class", "pcaxis")
    .attr("x1", x(p.axes.o[0])).attr("y1", y(p.axes.o[1]))
    .attr("x2", function (d) { return x(d[0]); })
    .attr("y2", function (d) { return y(d[1]); });

  var pts = [];
  p.series.forEach(function (s) {
    s[0].forEach(function (d) { pts.push({ x: d[0], y: d[1], z: d[2] || 1, color: s[1] }); });
  });
  pts = d3.sort(pts, function (d) { return d.z; });
  g.selectAll("circle").data(pts).join("circle")
    .attr("cx", function (d) { return x(d.x); })
    .attr("cy", function (d) { return y(d.y); })
    .attr("r", function (d) { return r(d.z); })
    .attr("fill", function (d) { return sphereFill(d.color); });

  g.selectAll("text").data(p.labels).join("text")
    .attr("class", "pc")
    .attr("x", function (d) { return d[1]; })
    .attr("y", function (d) { return d[2]; })
    .text(function (d) { return d[0]; });
});

// state legend
var stateY = d3.scaleBand().domain(stateLabels).range([1236.5, 1830]);
var stateLegend = svg.append("g").selectAll("g").data(stateLabels).join("g");
stateLegend.append("rect")
    .attr("x", 2056).attr("width", 43)
    .attr("y", function (d) { return stateY(d); }).attr("height", stateY.bandwidth())
    .attr("fill", function (d, i) { return stateColors[i]; })
    .attr("stroke", "#666").attr("stroke-width", 1);
stateLegend.append("text")
    .attr("x", 2113).attr("y", function (d) { return stateY(d) + stateY.bandwidth() / 2; })
    .attr("dy", "0.28em").style("font-size", "44px").text(function (d) { return d; });

// city legend, the strip sits very slightly tilted in the figure
var cityX = d3.scaleBand().domain(cityLabels).range([474, 2387]);
var cityLegend = svg.append("g").attr("transform", "rotate(-0.12 474 3312)");
cityLegend.selectAll("rect").data(cityLabels).join("rect")
    .attr("x", function (d) { return cityX(d); }).attr("width", cityX.bandwidth())
    .attr("y", 3312).attr("height", 44)
    .attr("fill", function (d, i) { return cityColors[i]; })
    .attr("stroke", "#777").attr("stroke-width", 0.8);
svg.append("g").selectAll("text").data(cityLabels).join("text")
    .attr("transform", function (d) { return "translate(" + (cityX(d) + cityX.bandwidth() / 2) + ",3382) rotate(-90)"; })
    .attr("dy", "0.3em").attr("text-anchor", "end")
    .style("font-size", "46.5px").text(function (d) { return d; });

// titles and panel letters
const titles = [["NOAA climate region", 1426, 92], ["Collection State", 1436, 1063], ["Collection City", 1426, 2202]];
const letters = [["a", 36, 178], ["b", 1680, 178], ["c", 836, 1093], ["d", 36, 2292], ["e", 1630, 2292]];
svg.append("g").selectAll("text").data(titles).join("text").attr("class", "title")
    .attr("x", function (d) { return d[1]; }).attr("y", function (d) { return d[2]; }).text(function (d) { return d[0]; });
svg.append("g").selectAll("text").data(letters).join("text").attr("class", "letter")
    .attr("x", function (d) { return d[1]; }).attr("y", function (d) { return d[2]; }).text(function (d) { return d[0]; });

</script>
</body>
</html>
